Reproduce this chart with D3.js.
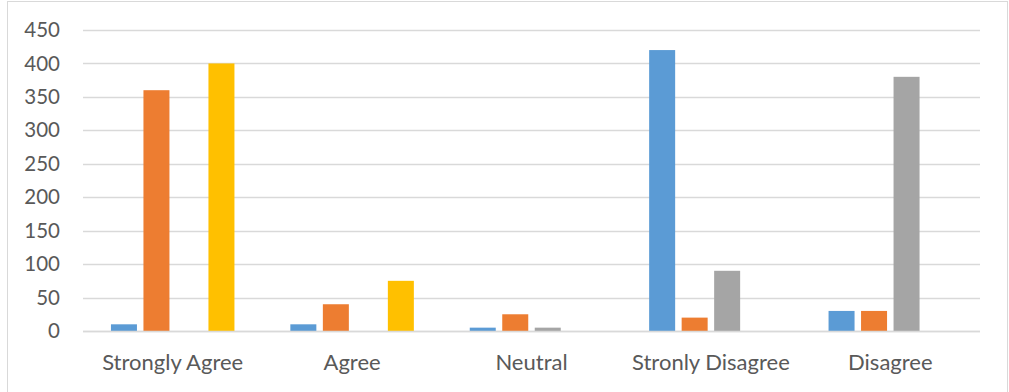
<!DOCTYPE html>
<html><head><meta charset="utf-8">
<script src="https://cdn.jsdelivr.net/npm/d3@7"></script>
<style>html,body{margin:0;padding:0;background:#fff;}svg{display:block;}</style>
</head><body><svg id="c" width="1009" height="392"></svg>
<script>
const categories = ["Strongly Agree", "Agree", "Neutral", "Stronly Disagree", "Disagree"];
const seriesNames = ["Series1", "Series2", "Series3", "Series4"];
const series1 = [10, 10, 5, 420, 30];
const series2 = [360, 40, 25, 20, 30];
const series3 = [0, 0, 5, 90, 380];
const series4 = [400, 75, 0, 0, 0];
const yTicks = [0, 50, 100, 150, 200, 250, 300, 350, 400, 450];
const colors = ["#5B9BD5", "#ED7D31", "#A5A5A5", "#FFC000"];

(function () {
const allSeries = [series1, series2, series3, series4];
const svg = d3.select("#c");
const font = "Lato, 'Open Sans', sans-serif";

// chart border
svg.append("rect").attr("x", 7.5).attr("y", 1.5).attr("width", 1000).attr("height", 400)
  .attr("fill", "none").attr("stroke", "#d9d9d9").attr("stroke-width", 1);

const mLeft = 83, mRight = 980, mTop = 30, mBottom = 331;
const x0 = d3.scaleBand().domain(categories).range([mLeft, mRight]).padding(0);
const x1 = d3.scaleBand().domain(seriesNames).range([0, x0.bandwidth()]).paddingInner(0.2).paddingOuter(0.86);
const y = d3.scaleLinear().domain([0, 450]).range([mBottom, mTop]);

// gridlines
svg.append("g").selectAll("line").data(yTicks).join("line")
  .attr("x1", mLeft).attr("x2", mRight)
  .attr("y1", d => Math.round(y(d)) + 0.5).attr("y2", d => Math.round(y(d)) + 0.5)
  .attr("stroke", "#d9d9d9").attr("stroke-width", 1.5);

// y labels
const yAxis = d3.axisLeft(y).tickValues(yTicks).tickSize(0).tickPadding(0);
const ya = svg.append("g").attr("transform", `translate(60,0)`).call(yAxis);
ya.select(".domain").remove();
ya.selectAll("text").attr("fill", "#595959").style("font-family", font).style("font-size", "20.5px");

// bars
const g = svg.append("g");
categories.forEach((c, ci) => {
  seriesNames.forEach((s, si) => {
    const v = allSeries[si][ci];
    if (v <= 0) return;
    g.append("rect")
      .attr("x", x0(c) + x1(s))
      .attr("y", y(v))
      .attr("width", x1.bandwidth())
      .attr("height", y(0) - y(v))
      .attr("fill", colors[si]);
  });
});

// baseline
svg.append("line").attr("x1", mLeft).attr("x2", mRight)
  .attr("y1", Math.round(y(0)) + 0.5).attr("y2", Math.round(y(0)) + 0.5)
  .attr("stroke", "#d9d9d9").attr("stroke-width", 1.5);

// x labels
const xAxis = d3.axisBottom(x0).tickSize(0).tickPadding(0);
const xa = svg.append("g").attr("transform", `translate(0,${mBottom + 23})`).call(xAxis);
xa.select(".domain").remove();
xa.selectAll("text").attr("fill", "#595959").style("font-family", font).style("font-size", "22px");
})();
</script></body></html>
